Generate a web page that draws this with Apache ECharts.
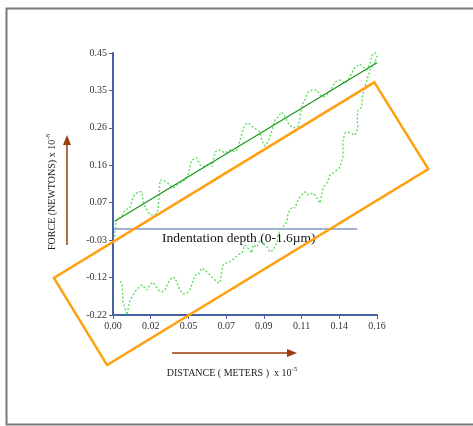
<!DOCTYPE html>
<html>
<head>
<meta charset="utf-8">
<script src="https://cdn.jsdelivr.net/npm/echarts@6/dist/echarts.min.js"></script>
<style>html,body{margin:0;padding:0;background:#fff}#c{width:473px;height:426px}</style>
</head>
<body>
<div id="c"></div>
<script>
// ---- data (distance x1e-5 m, force x1e-8 N) ----
const xTickLabels = ['0.00','0.02','0.05','0.07','0.09','0.11','0.14','0.16'];
const yTickLabels = ['-0.22','-0.12','-0.03','0.07','0.16','0.26','0.35','0.45'];
const xMin = 0, xMax = 0.16, yMin = -0.22, yMax = 0.45;

const loadX = [0.0008,0.0022,0.0053,0.0073,0.0103,0.0121,0.0152,0.0174,0.0182,0.0204,0.0224,0.0255,0.0273,0.0285,0.0303,0.0325,0.0345,0.0364,0.0386,0.0406,0.0436,0.0455,0.0477,0.0507,0.0527,0.0558,0.0588,0.0600,0.0618,0.0648,0.0679,0.0709,0.0739,0.0758,0.0770,0.0788,0.0800,0.0818,0.0842,0.0871,0.0891,0.0903,0.0921,0.0939,0.0964,0.0982,0.1000,0.1022,0.1042,0.1061,0.1091,0.1121,0.1133,0.1145,0.1164,0.1182,0.1206,0.1236,0.1255,0.1273,0.1297,0.1327,0.1345,0.1376,0.1406,0.1424,0.1448,0.1467,0.1497,0.1515,0.1539,0.1558,0.1570,0.1588,0.1600,0.1588];
const loadF = [-0.020,0.023,0.031,0.049,0.054,0.082,0.095,0.095,0.070,0.049,0.036,0.036,0.049,0.125,0.125,0.121,0.112,0.105,0.112,0.118,0.125,0.138,0.176,0.182,0.164,0.159,0.169,0.159,0.197,0.202,0.194,0.202,0.197,0.207,0.228,0.253,0.266,0.271,0.263,0.253,0.248,0.225,0.212,0.223,0.253,0.279,0.286,0.299,0.287,0.271,0.258,0.262,0.284,0.317,0.330,0.350,0.355,0.355,0.343,0.337,0.343,0.360,0.376,0.381,0.373,0.381,0.399,0.414,0.422,0.414,0.407,0.424,0.445,0.451,0.440,0.427];

const unloadX = [0.1588,0.1558,0.1539,0.1527,0.1509,0.1509,0.1485,0.1479,0.1485,0.1467,0.1424,0.1406,0.1394,0.1394,0.1376,0.1358,0.1333,0.1315,0.1297,0.1273,0.1255,0.1236,0.1212,0.1182,0.1164,0.1145,0.1121,0.1103,0.1085,0.1061,0.1055,0.1030,0.1012,0.1000,0.0994,0.0970,0.0952,0.0933,0.0909,0.0891,0.0873,0.0848,0.0842,0.0818,0.0800,0.0782,0.0758,0.0739,0.0709,0.0691,0.0667,0.0661,0.0648,0.0630,0.0606,0.0588,0.0558,0.0539,0.0515,0.0497,0.0485,0.0467,0.0448,0.0424,0.0406,0.0376,0.0358,0.0333,0.0315,0.0297,0.0273,0.0255,0.0242,0.0224,0.0206,0.0194,0.0176,0.0152,0.0133,0.0121,0.0103,0.0091,0.0085,0.0073,0.0061,0.0055,0.0042];
const unloadF = [0.427,0.407,0.381,0.363,0.335,0.312,0.304,0.279,0.258,0.240,0.248,0.245,0.228,0.187,0.158,0.151,0.143,0.138,0.118,0.105,0.066,0.079,0.092,0.087,0.095,0.087,0.074,0.054,0.056,0.041,0.018,0.005,-0.003,-0.020,-0.033,-0.054,-0.059,-0.046,-0.036,-0.028,-0.046,-0.041,-0.061,-0.049,-0.041,-0.061,-0.066,-0.074,-0.084,-0.087,-0.092,-0.105,-0.138,-0.136,-0.125,-0.118,-0.105,-0.100,-0.118,-0.118,-0.133,-0.156,-0.164,-0.166,-0.156,-0.125,-0.123,-0.138,-0.156,-0.161,-0.156,-0.143,-0.136,-0.143,-0.156,-0.151,-0.143,-0.151,-0.161,-0.169,-0.182,-0.207,-0.220,-0.220,-0.187,-0.143,-0.130];

const fitX = [0.001, 0.160];
const fitF = [0.020, 0.425];

const depthX = [0.000, 0.148];
const depthF = [0.000, 0.000];

// highlight box corners (data units)
const boxX = [0.1584, 0.1911, -0.0036, -0.0358];
const boxF = [0.375, 0.153, -0.348, -0.125];

const zip = (a, b) => a.map((v, i) => [v, b[i]]);

const AXIS = '#4562a6';
const BROWN = '#9c3d0c';
const SERIF = '"Liberation Serif", "Times New Roman", serif';
const xInt = (xMax - xMin) / 7, yInt = (yMax - yMin) / 7;

const chart = echarts.init(document.getElementById('c'), null, {renderer: 'canvas'});
chart.setOption({
  animation: false,
  backgroundColor: '#fff',
  grid: {left: 113, right: 96, top: 53, bottom: 111, containLabel: false},
  xAxis: {
    type: 'value', min: xMin, max: xMax, interval: xInt,
    axisLine: {show: true, onZero: false, lineStyle: {color: AXIS, width: 2}},
    axisTick: {show: true, length: 4, lineStyle: {color: AXIS, width: 1}},
    splitLine: {show: false},
    axisLabel: {margin: 6, color: '#333', fontFamily: SERIF, fontSize: 10,
      formatter: v => xTickLabels[Math.round((v - xMin) / xInt)] ?? ''}
  },
  yAxis: {
    type: 'value', min: yMin, max: yMax, interval: yInt,
    axisLine: {show: true, onZero: false, lineStyle: {color: AXIS, width: 2}},
    axisTick: {show: true, length: 4, lineStyle: {color: AXIS, width: 1}},
    splitLine: {show: false},
    axisLabel: {margin: 6, color: '#333', fontFamily: SERIF, fontSize: 10,
      formatter: v => yTickLabels[Math.round((v - yMin) / yInt)] ?? ''}
  },
  series: [
    {type: 'line', data: zip(depthX, depthF), symbol: 'none', silent: true,
     lineStyle: {color: AXIS, width: 1}, z: 2},
    {type: 'line', data: zip(loadX, loadF), symbol: 'none', silent: true,
     lineStyle: {color: '#62dc62', width: 1.4, type: [2, 2]}, z: 3},
    {type: 'line', data: zip(unloadX, unloadF), symbol: 'none', silent: true,
     lineStyle: {color: '#62dc62', width: 1.4, type: [2, 2]}, z: 3},
    {type: 'line', data: zip(fitX, fitF), symbol: 'none', silent: true,
     lineStyle: {color: '#1a961a', width: 1.2}, z: 4}
  ]
});

// highlight box placed through the chart's own scales
const boxPts = boxX.map((x, i) => chart.convertToPixel({gridIndex: 0}, [x, boxF[i]]));

chart.setOption({
  graphic: [
    {type: 'rect', shape: {x: 6.5, y: 8.5, width: 520, height: 416}, silent: true,
     style: {fill: 'none', stroke: '#7a7a7a', lineWidth: 2}, z: 0},
    {type: 'polygon', shape: {points: boxPts}, silent: true, z: 20,
     style: {fill: 'none', stroke: '#ffa010', lineWidth: 2.5, lineJoin: 'miter'}},
    {type: 'text', x: 162, y: 238, silent: true, z: 10,
     style: {text: 'Indentation depth (0-1.6µm)', font: '13.5px ' + SERIF, fill: '#111',
       verticalAlign: 'middle', align: 'left'}},
    {type: 'text', x: 52, y: 192, rotation: Math.PI / 2, silent: true, z: 10,
     style: {text: 'FORCE (NEWTONS) x 10{sup|-8}', font: '10px ' + SERIF, fill: '#222',
       align: 'center', verticalAlign: 'middle',
       rich: {sup: {fontSize: 7, fontFamily: SERIF, verticalAlign: 'top', padding: [0, 0, 7, 0], fill: '#222'}}}},
    {type: 'text', x: 232, y: 373, silent: true, z: 10,
     style: {text: 'DISTANCE ( METERS )  x 10{sup|-5}', font: '10px ' + SERIF, fill: '#222',
       align: 'center', verticalAlign: 'middle',
       rich: {sup: {fontSize: 7, fontFamily: SERIF, verticalAlign: 'top', padding: [0, 0, 7, 0], fill: '#222'}}}},
    {type: 'line', shape: {x1: 67, y1: 245, x2: 67, y2: 142}, silent: true,
     style: {stroke: BROWN, lineWidth: 1.5}},
    {type: 'polygon', shape: {points: [[67, 135], [63, 145], [71, 145]]}, silent: true,
     style: {fill: BROWN}},
    {type: 'line', shape: {x1: 172, y1: 353, x2: 290, y2: 353}, silent: true,
     style: {stroke: BROWN, lineWidth: 1.5}},
    {type: 'polygon', shape: {points: [[297, 353], [287, 349], [287, 357]]}, silent: true,
     style: {fill: BROWN}}
  ]
});
</script>
</body>
</html>
